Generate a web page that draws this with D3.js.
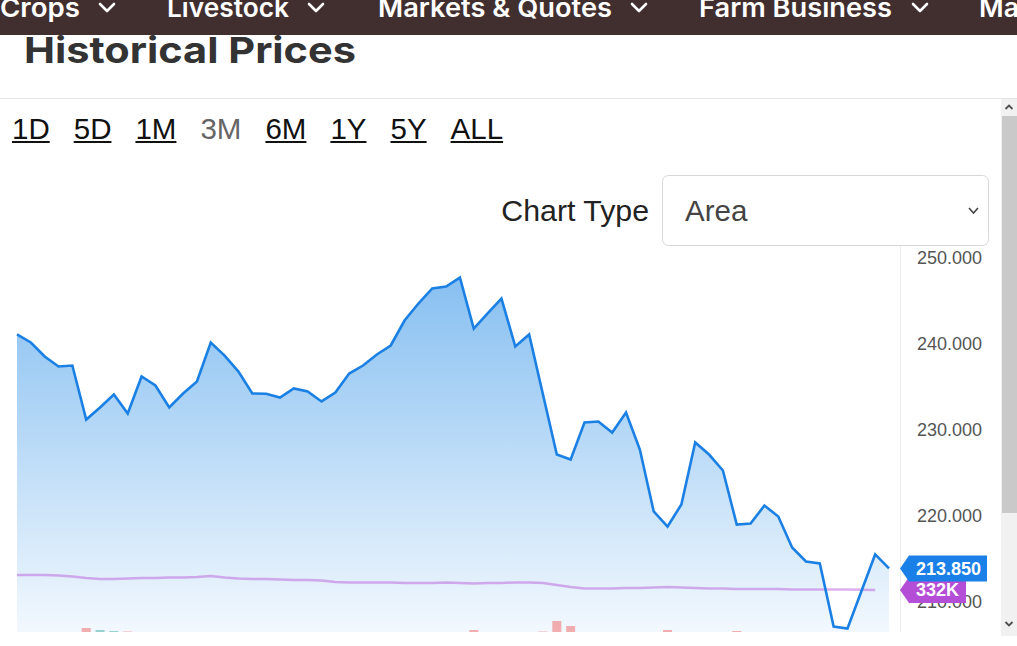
<!DOCTYPE html>
<html><head><meta charset="utf-8">
<script src="https://cdn.jsdelivr.net/npm/d3@7"></script>
<style>
html,body{margin:0;padding:0;background:#fff;overflow:hidden;}
svg{display:block;}
</style></head>
<body>
<svg id="c" width="1017" height="646"></svg>
<script>
// ---------- data ----------
const navItems = ["Crops", "Livestock", "Markets & Quotes", "Farm Business", "Ma"];
const pageTitle = "Historical Prices";
const rangeButtons = ["1D", "5D", "1M", "3M", "6M", "1Y", "5Y", "ALL"];
const activeRange = "3M";
const chartTypeLabel = "Chart Type";
const chartTypeValue = "Area";
const priceTicks = [210, 220, 230, 240, 250];
// daily settle prices (3 months)
const prices = [
  241.05, 240.12, 238.49, 237.33, 237.44, 231.16, 232.56, 234.07, 231.86, 236.16,
  235.12, 232.56, 234.19, 235.58, 240.12, 238.60, 236.74, 234.19, 234.15, 233.72,
  234.77, 234.42, 233.26, 234.30, 236.51, 237.44, 238.72, 239.77, 242.67, 244.65,
  246.40, 246.63, 247.67, 241.74, 243.49, 245.23, 239.65, 241.05, 234.07, 227.09,
  226.51, 230.81, 230.93, 229.65, 231.98, 227.67, 220.47, 218.72, 221.28, 228.49,
  227.09, 225.23, 218.95, 219.07, 221.16, 219.88, 216.28, 214.65, 214.42, 207.09,
  206.86, 211.16, 215.47, 213.85
];
// open interest, thousands (last day not yet reported)
const openInterest = [
  445, 445, 445, 441, 434, 423, 415, 415, 419, 423,
  423, 426, 426, 430, 438, 426, 419, 415, 415, 411,
  407, 407, 404, 392, 389, 389, 389, 389, 385, 385,
  385, 389, 385, 381, 385, 385, 389, 389, 385, 370,
  355, 343, 343, 343, 347, 347, 351, 355, 351, 347,
  343, 343, 340, 340, 340, 340, 336, 336, 336, 336,
  336, 334, 332
];
// volume, thousands
const volume = [
  98, 104, 112, 96, 120, 144, 140, 138, 137, 118,
  102, 110, 95, 88, 126, 115, 104, 92, 85, 90,
  99, 94, 108, 100, 112, 96, 105, 118, 124, 128,
  120, 110, 116, 140, 122, 130, 126, 121, 137, 158,
  148, 129, 110, 104, 118, 125, 133, 140, 127, 131,
  109, 122, 138, 119, 113, 106, 124, 131, 127, 135,
  129, 120, 112, 96
];
const lastPriceLabel = "213.850";
const lastOiLabel = "332K";

// ---------- drawing ----------
const svg = d3.select("#c");
const W = 1017, H = 646;
const sans = "'Liberation Sans', Arial, sans-serif";
const heading = "Inter, 'Noto Sans', sans-serif";

// nav bar
svg.append("rect").attr("x", 0).attr("y", 0).attr("width", W).attr("height", 35).attr("fill", "#412f2f");
const navLayout = [
  {x: 0, w: 80, chev: 100}, {x: 167, w: 122, chev: 309},
  {x: 378, w: 234, chev: 632}, {x: 699, w: 193, chev: 913}, {x: 979, w: 40, chev: null}
];
navItems.forEach((t, i) => {
  const L = navLayout[i];
  svg.append("text").attr("x", L.x).attr("y", 17)
    .attr("font-family", heading).attr("font-weight", 600).attr("font-size", 26)
    .attr("fill", "#fff").attr("textLength", L.w).attr("lengthAdjust", "spacingAndGlyphs").text(t);
  if (L.chev !== null) {
    svg.append("path").attr("d", `M${L.chev},4 L${L.chev + 7},11 L${L.chev + 14},4`)
      .attr("fill", "none").attr("stroke", "#fff").attr("stroke-width", 2.6)
      .attr("stroke-linecap", "round").attr("stroke-linejoin", "round");
  }
});

// title
svg.append("text").attr("x", 24).attr("y", 63)
  .attr("font-family", heading).attr("font-weight", 700).attr("font-size", 36)
  .attr("fill", "#333").attr("textLength", 332).attr("lengthAdjust", "spacingAndGlyphs").text(pageTitle);
svg.append("line").attr("x1", 0).attr("x2", W).attr("y1", 98.5).attr("y2", 98.5)
  .attr("stroke", "#e4e4e4").attr("stroke-width", 1);

// range buttons
let bx = 12;
rangeButtons.forEach(t => {
  const active = t === activeRange;
  const tx = svg.append("text").attr("x", bx).attr("y", 139)
    .attr("font-family", sans).attr("font-size", 29.5)
    .attr("fill", active ? "#666" : "#111").text(t);
  const w = tx.node().getComputedTextLength();
  if (!active) {
    svg.append("rect").attr("x", bx).attr("y", 141).attr("width", w).attr("height", 2).attr("fill", "#111");
  }
  bx += w + 24;
});

// ---------- chart ----------
const plotLeft = 17, plotRight = 889, axisX = 900, plotBottom = 632;
const x = d3.scaleLinear().domain([0, prices.length - 1]).range([plotLeft, plotRight]);
const y = d3.scaleLinear().domain([210, 250]).range([601.5, 257.5]);
const yOi = d3.scaleLinear().domain([300, 460]).range([594.2, 573.0]);
const yVol = d3.scaleLinear().domain([0, 160]).range([700, 620]);

const defs = svg.append("defs");
defs.append("clipPath").attr("id", "plotclip").append("rect")
  .attr("x", 0).attr("y", 99).attr("width", axisX).attr("height", plotBottom - 99);
const grad = defs.append("linearGradient").attr("id", "areaGrad")
  .attr("gradientUnits", "userSpaceOnUse").attr("x1", 0).attr("x2", 0).attr("y1", 257).attr("y2", 645);
grad.append("stop").attr("offset", 0).attr("stop-color", "#1e88e5").attr("stop-opacity", 0.56);
grad.append("stop").attr("offset", 1).attr("stop-color", "#1e88e5").attr("stop-opacity", 0.04);

const plot = svg.append("g").attr("clip-path", "url(#plotclip)");

plot.append("path").datum(prices)
  .attr("d", d3.area().x((d, i) => x(i)).y0(700).y1(d => y(d)))
  .attr("fill", "url(#areaGrad)");

// volume bars
plot.append("g").selectAll("rect").data(volume).join("rect")
  .attr("x", (d, i) => x(i) - 4.5).attr("width", 9)
  .attr("y", d => yVol(d)).attr("height", d => yVol(0) - yVol(d))
  .attr("fill", (d, i) => (i === 0 || prices[i] >= prices[i - 1]) ? "rgba(38,166,154,0.45)" : "rgba(239,83,80,0.45)");

// open interest line
plot.append("path").datum(openInterest)
  .attr("d", d3.line().x((d, i) => x(i)).y(d => yOi(d)))
  .attr("fill", "none").attr("stroke", "rgba(180,79,214,0.45)").attr("stroke-width", 2.5);

// price line
plot.append("path").datum(prices)
  .attr("d", d3.line().x((d, i) => x(i)).y(d => y(d)))
  .attr("fill", "none").attr("stroke", "#1b80e4").attr("stroke-width", 2.6)
  .attr("stroke-linejoin", "miter");

// axis separator
svg.append("line").attr("x1", axisX + 0.5).attr("x2", axisX + 0.5).attr("y1", 246).attr("y2", plotBottom)
  .attr("stroke", "#ececec");

// y axis
const yAxis = d3.axisRight(y).tickValues(priceTicks).tickFormat(d3.format(".3f")).tickSize(0).tickPadding(17);
const ag = svg.append("g").attr("transform", `translate(${axisX},0)`).call(yAxis);
ag.select(".domain").remove();
ag.selectAll("text").attr("font-family", sans).attr("font-size", 18).attr("fill", "#555");

// last value badges
function badge(cy, right, color, label) {
  const g = svg.append("g");
  g.append("path").attr("d", `M${axisX},${cy} L${axisX + 9},${cy - 13} L${right},${cy - 13} L${right},${cy + 13} L${axisX + 9},${cy + 13} Z`)
    .attr("fill", color);
  g.append("text").attr("x", axisX + 16).attr("y", cy + 6.5)
    .attr("font-family", sans).attr("font-weight", 700).attr("font-size", 18)
    .attr("fill", "#fff").text(label);
}
badge(yOi(openInterest[openInterest.length - 1]), 966, "#b44ed6", lastOiLabel);
badge(y(prices[prices.length - 1]), 987, "#1a80e8", lastPriceLabel);

// chart type select (overlay)
svg.append("text").attr("x", 649).attr("y", 221).attr("text-anchor", "end")
  .attr("font-family", sans).attr("font-size", 30.3).attr("fill", "#222").text(chartTypeLabel);
svg.append("rect").attr("x", 662.5).attr("y", 175.5).attr("width", 326).attr("height", 70).attr("rx", 6)
  .attr("fill", "#fff").attr("stroke", "#d8d8d8");
svg.append("text").attr("x", 685).attr("y", 221)
  .attr("font-family", sans).attr("font-size", 29.5).attr("fill", "#444").text(chartTypeValue);
svg.append("path").attr("d", "M969,208 L973.5,213 L978,208").attr("fill", "none")
  .attr("stroke", "#444").attr("stroke-width", 1.6);

// scrollbar
svg.append("rect").attr("x", 1001).attr("y", 99).attr("width", 16).attr("height", 537).attr("fill", "#f1f1f1");
svg.append("rect").attr("x", 1002).attr("y", 116).attr("width", 15).attr("height", 397).attr("fill", "#c9c9c9");
svg.append("path").attr("d", "M1005.5,109 L1009,105.5 L1012.5,109").attr("fill", "none").attr("stroke", "#505050").attr("stroke-width", 1.8);
svg.append("path").attr("d", "M1005.5,622 L1009,625.5 L1012.5,622").attr("fill", "none").attr("stroke", "#505050").attr("stroke-width", 1.8);
</script>
</body></html>
